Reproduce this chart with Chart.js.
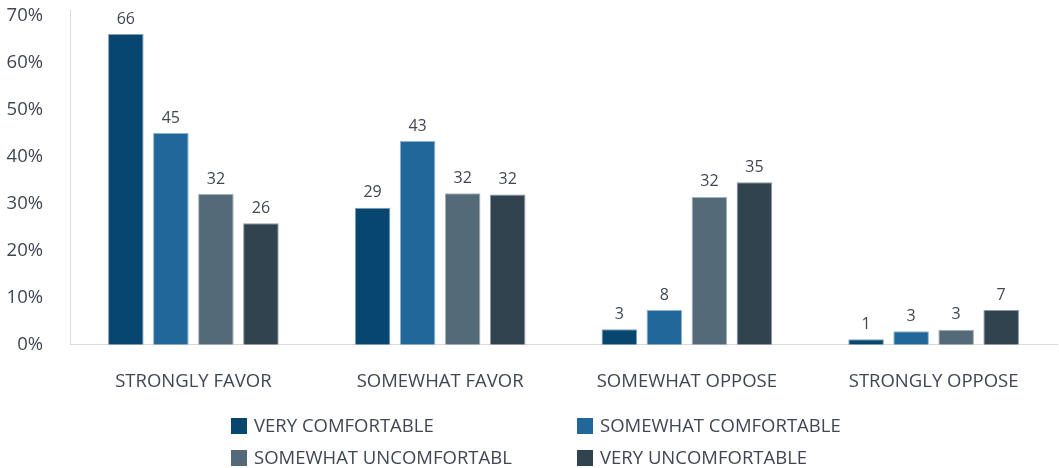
<!DOCTYPE html>
<html>
<head>
<meta charset="utf-8">
<script src="https://cdn.jsdelivr.net/npm/chart.js@4/dist/chart.umd.min.js"></script>
<style>
html,body{margin:0;padding:0;background:#fff;}
#wrap{position:relative;width:1059px;height:468px;}
</style>
</head>
<body>
<div id="wrap"><canvas id="c" width="1059" height="468"></canvas></div>
<script>
const categories = ["STRONGLY FAVOR", "SOMEWHAT FAVOR", "SOMEWHAT OPPOSE", "STRONGLY OPPOSE"];
const seriesNames = ["VERY COMFORTABLE", "SOMEWHAT COMFORTABLE", "SOMEWHAT UNCOMFORTABL", "VERY UNCOMFORTABLE"];
const veryComfortable = [66.2, 29.2, 3.3, 1.2];
const somewhatComfortable = [45.1, 43.4, 7.4, 2.9];
const somewhatUncomfortable = [32.1, 32.3, 31.5, 3.2];
const veryUncomfortable = [25.9, 32.0, 34.6, 7.4];
const veryComfortableLabels = ["66", "29", "3", "1"];
const somewhatComfortableLabels = ["45", "43", "8", "3"];
const somewhatUncomfortableLabels = ["32", "32", "32", "3"];
const veryUncomfortableLabels = ["26", "32", "35", "7"];
const yTicks = [0, 10, 20, 30, 40, 50, 60, 70];

const colors = ["#07466F", "#22679A", "#546A79", "#30434F"];
const borders = ["#7f9fba", "#8fb2cf", "#a3b1bb", "#8b99a3"];
const FONT = "'Open Sans', sans-serif";
const TEXT = "#404653";

const seriesValues = [veryComfortable, somewhatComfortable, somewhatUncomfortable, veryUncomfortable];
const seriesLabels = [veryComfortableLabels, somewhatComfortableLabels, somewhatUncomfortableLabels, veryUncomfortableLabels];

const valueLabelPlugin = {
  id: 'valueLabels',
  afterDatasetsDraw(chart) {
    const ctx = chart.ctx;
    ctx.save();
    ctx.font = "16px " + FONT;
    ctx.fillStyle = TEXT;
    ctx.textAlign = 'center';
    ctx.textBaseline = 'bottom';
    chart.data.datasets.forEach((ds, i) => {
      chart.getDatasetMeta(i).data.forEach((bar, j) => {
        ctx.fillText(ds.valueLabels[j], bar.x, bar.y - 7);
      });
    });
    ctx.restore();
  }
};

const legendPlugin = {
  id: 'gridLegend',
  afterDraw(chart) {
    const ctx = chart.ctx;
    ctx.save();
    ctx.font = "18.5px " + FONT;
    ctx.textAlign = 'left';
    ctx.textBaseline = 'middle';
    const colX = [231, 577];
    const rowY = [426, 458];
    chart.data.datasets.forEach((ds, i) => {
      const x = colX[i % 2], y = rowY[Math.floor(i / 2)];
      ctx.fillStyle = ds.backgroundColor;
      ctx.fillRect(x, y - 8, 16, 16);
      ctx.fillStyle = TEXT;
      ctx.fillText(ds.label, x + 23, y + 1);
    });
    ctx.restore();
  }
};

new Chart(document.getElementById('c'), {
  type: 'bar',
  data: {
    labels: categories,
    datasets: seriesNames.map((name, i) => ({
      label: name,
      data: seriesValues[i],
      valueLabels: seriesLabels[i],
      backgroundColor: colors[i],
      borderColor: borders[i],
      borderWidth: 1,
      categoryPercentage: 0.73,
      barPercentage: 0.79
    }))
  },
  options: {
    responsive: false,
    animation: false,
    devicePixelRatio: 1,
    layout: { padding: { top: 10, right: 2, left: 5, bottom: 49 } },
    plugins: {
      legend: { display: false },
      tooltip: { enabled: false }
    },
    scales: {
      x: {
        grid: { display: false, drawTicks: false },
        border: { display: true, color: '#d9d9d9', width: 1 },
        ticks: { color: TEXT, font: { family: FONT, size: 18.5 }, padding: 26, maxRotation: 0 }
      },
      y: {
        min: 0, max: 71.3,
        afterBuildTicks: s => { s.ticks = yTicks.map(v => ({ value: v })); },
        afterFit: s => { s.width = 65; s.paddingTop = 0; s.paddingBottom = 0; },
        grid: { display: false, drawTicks: false },
        border: { display: true, color: '#d9d9d9', width: 1 },
        ticks: { color: TEXT, font: { family: FONT, size: 18.5 }, padding: 27, callback: v => v + '%' }
      }
    }
  },
  plugins: [valueLabelPlugin, legendPlugin]
});
</script>
</body>
</html>
